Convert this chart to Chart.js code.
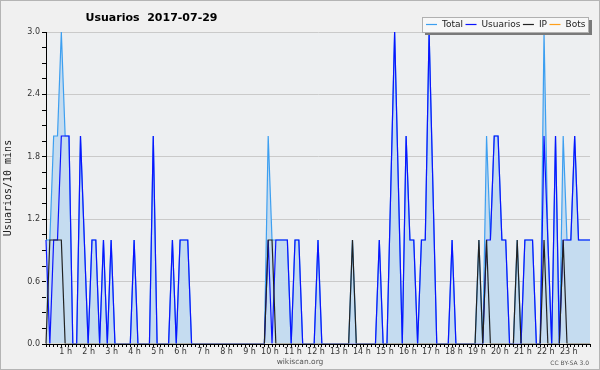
<!DOCTYPE html>
<html>
<head>
<meta charset="utf-8">
<title>Usuarios 2017-07-29</title>
<script src="https://cdn.jsdelivr.net/npm/chart.js@4/dist/chart.umd.min.js"></script>
<style>
  html, body { margin: 0; padding: 0; background: #f0f0f0; }
  canvas { display: block; }
</style>
</head>
<body>
<canvas id="chart" width="600" height="370"></canvas>
<script>
  // 10 minute slots, one line per hour
  var usuarios = [
    1, 0, 1, 1, 2, 2,
    2, 0, 0, 2, 1, 0,
    1, 1, 0, 1, 0, 1,
    0, 0, 0, 0, 0, 1,
    0, 0, 0, 0, 2, 0,
    0, 0, 0, 1, 0, 1,
    1, 1, 0, 0, 0, 0,
    0, 0, 0, 0, 0, 0,
    0, 0, 0, 0, 0, 0,
    0, 0, 0, 0, 1, 0,
    1, 1, 1, 1, 0, 1,
    1, 0, 0, 0, 0, 1,
    0, 0, 0, 0, 0, 0,
    0, 0, 0, 0, 0, 0,
    0, 0, 0, 1, 0, 0,
    1.5, 3, 1.5, 0, 2, 1,
    1, 0, 1, 1, 3, 1.5,
    0, 0, 0, 0, 1, 0,
    0, 0, 0, 0, 0, 0,
    0, 1, 1, 2, 2, 1,
    1, 0, 0, 0, 0, 1,
    1, 1, 0, 0, 2, 1,
    0, 2, 0, 1, 1, 1,
    2, 1, 1, 1, 1
  ];

  var ip = [
    0, 1, 1, 1, 1, 0,
    0, 0, 0, 0, 0, 0,
    0, 0, 0, 0, 0, 0,
    0, 0, 0, 0, 0, 0,
    0, 0, 0, 0, 0, 0,
    0, 0, 0, 0, 0, 0,
    0, 0, 0, 0, 0, 0,
    0, 0, 0, 0, 0, 0,
    0, 0, 0, 0, 0, 0,
    0, 0, 0, 0, 1, 1,
    0, 0, 0, 0, 0, 0,
    0, 0, 0, 0, 0, 0,
    0, 0, 0, 0, 0, 0,
    0, 0, 1, 0, 0, 0,
    0, 0, 0, 0, 0, 0,
    0, 0, 0, 0, 0, 0,
    0, 0, 0, 0, 0, 0,
    0, 0, 0, 0, 0, 0,
    0, 0, 0, 0, 0, 1,
    0, 1, 0, 0, 0, 0,
    0, 0, 0, 1, 0, 0,
    0, 0, 0, 0, 1, 0,
    0, 0, 0, 1, 0, 0,
    0, 0, 0, 0, 0
  ];

  var bots = [
    0, 0, 0, 0, 0, 0,  0, 0, 0, 0, 0, 0,  0, 0, 0, 0, 0, 0,  0, 0, 0, 0, 0, 0,
    0, 0, 0, 0, 0, 0,  0, 0, 0, 0, 0, 0,  0, 0, 0, 0, 0, 0,  0, 0, 0, 0, 0, 0,
    0, 0, 0, 0, 0, 0,  0, 0, 0, 0, 0, 0,  0, 0, 0, 0, 0, 0,  0, 0, 0, 0, 0, 0,
    0, 0, 0, 0, 0, 0,  0, 0, 0, 0, 0, 0,  0, 0, 0, 0, 0, 0,  0, 0, 0, 0, 0, 0,
    0, 0, 0, 0, 0, 0,  0, 0, 0, 0, 0, 0,  0, 0, 0, 0, 0, 0,  0, 0, 0, 0, 0, 0,
    0, 0, 0, 0, 0, 0,  0, 0, 0, 0, 0, 0,  0, 0, 0, 0, 0, 0,  0, 0, 0, 0, 0
  ];

  var total = [
    1, 1, 2, 2, 3, 2,
    2, 0, 0, 2, 1, 0,
    1, 1, 0, 1, 0, 1,
    0, 0, 0, 0, 0, 1,
    0, 0, 0, 0, 2, 0,
    0, 0, 0, 1, 0, 1,
    1, 1, 0, 0, 0, 0,
    0, 0, 0, 0, 0, 0,
    0, 0, 0, 0, 0, 0,
    0, 0, 0, 0, 2, 1,
    1, 1, 1, 1, 0, 1,
    1, 0, 0, 0, 0, 1,
    0, 0, 0, 0, 0, 0,
    0, 0, 1, 0, 0, 0,
    0, 0, 0, 1, 0, 0,
    1.5, 3, 1.5, 0, 2, 1,
    1, 0, 1, 1, 3, 1.5,
    0, 0, 0, 0, 1, 0,
    0, 0, 0, 0, 0, 1,
    0, 2, 1, 2, 2, 1,
    1, 0, 0, 1, 0, 1,
    1, 1, 0, 0, 3, 1,
    0, 2, 0, 2, 1, 1,
    2, 1, 1, 1, 1
  ];

  var hourLabels = ['1 h', '2 h', '3 h', '4 h', '5 h', '6 h', '7 h', '8 h', '9 h', '10 h', '11 h', '12 h',
    '13 h', '14 h', '15 h', '16 h', '17 h', '18 h', '19 h', '20 h', '21 h', '22 h', '23 h'];
  var yMajor = [0, 0.6, 1.2, 1.8, 2.4, 3.0];

  var colors = {
    total: '#3d9ff0',
    fill: '#c5dcf0',
    usuarios: '#0a14ff',
    ip: '#222222',
    bots: '#ff9f1a'
  };

  var slots = [];
  for (var h = 0; h < 24; h++) {
    for (var m = 0; m < 60; m += 10) {
      if (slots.length < total.length) {
        slots.push((h < 10 ? '0' : '') + h + ':' + (m < 10 ? '0' : '') + m);
      }
    }
  }

  var isMajor = function (v) {
    return yMajor.some(function (t) { return Math.abs(t - v) < 1e-6; });
  };

  var tickFont = { family: 'DejaVu Sans', size: 8 };
  // hide the part of the lines that sits on the zero axis
  var lineClip = { left: 1, top: 2, right: 2, bottom: -0.5 };

  var decor = {
    id: 'decor',
    beforeDraw: function (chart) {
      var ctx = chart.ctx, a = chart.chartArea;
      ctx.save();
      ctx.fillStyle = '#f0f0f0';
      ctx.fillRect(0, 0, chart.width, chart.height);
      ctx.strokeStyle = '#b4b4b4';
      ctx.lineWidth = 1;
      ctx.strokeRect(0.5, 0.5, chart.width - 1, chart.height - 1);
      ctx.fillStyle = '#edeff1';
      ctx.fillRect(a.left, a.top, a.right - a.left, a.bottom - a.top);
      ctx.restore();
    },
    afterDraw: function (chart) {
      var ctx = chart.ctx;
      ctx.save();

      // title
      ctx.fillStyle = '#000';
      ctx.font = 'bold 11px "DejaVu Sans"';
      ctx.textAlign = 'center';
      ctx.textBaseline = 'alphabetic';
      ctx.fillText('Usuarios  2017-07-29', 151.5, 21);

      // legend box with shadow
      ctx.fillStyle = '#7a7a7a';
      ctx.fillRect(425, 20, 167, 15);
      ctx.fillStyle = '#f7f7f7';
      ctx.fillRect(422, 17, 167, 16);
      ctx.strokeStyle = '#b0b0b0';
      ctx.strokeRect(422.5, 17.5, 166, 15);

      ctx.font = '9px "DejaVu Sans"';
      ctx.textAlign = 'left';
      ctx.textBaseline = 'middle';
      var x = 426;
      chart.data.datasets.forEach(function (ds) {
        ctx.strokeStyle = ds.borderColor;
        ctx.lineWidth = 1.2;
        ctx.beginPath();
        ctx.moveTo(x, 24.5);
        ctx.lineTo(x + 11, 24.5);
        ctx.stroke();
        x += 16;
        ctx.fillStyle = '#222';
        ctx.fillText(ds.label, x, 25);
        x += ctx.measureText(ds.label).width + 2.5;
      });

      // footer
      ctx.fillStyle = '#555';
      ctx.font = '7.5px "DejaVu Sans"';
      ctx.textAlign = 'center';
      ctx.textBaseline = 'alphabetic';
      ctx.fillText('wikiscan.org', 300, 364);
      ctx.font = '6px "DejaVu Sans"';
      ctx.textAlign = 'right';
      ctx.fillText('CC BY-SA 3.0', 589, 365);
      ctx.restore();
    }
  };

  var chart = new Chart(document.getElementById('chart'), {
    type: 'line',
    data: {
      labels: slots,
      datasets: [
        { label: 'Total', data: total, borderColor: colors.total, backgroundColor: colors.fill, fill: 'origin', order: 4, clip: lineClip },
        { label: 'Usuarios', data: usuarios, borderColor: colors.usuarios, fill: false, order: 3, clip: lineClip },
        { label: 'IP', data: ip, borderColor: colors.ip, fill: false, order: 1, clip: lineClip },
        { label: 'Bots', data: bots, borderColor: colors.bots, fill: false, order: 5, clip: lineClip }
      ]
    },
    options: {
      responsive: false,
      animation: false,
      devicePixelRatio: 1,
      layout: { padding: { top: 32, right: 10, left: 0, bottom: 0 } },
      elements: {
        point: { radius: 0 },
        line: { borderWidth: 1.2, tension: 0 }
      },
      plugins: {
        legend: { display: false },
        tooltip: { enabled: false },
        title: { display: false }
      },
      scales: {
        x: {
          z: 1,
          offset: false,
          border: { color: '#000', width: 1 },
          grid: { drawOnChartArea: false, tickLength: 3, tickColor: '#000' },
          ticks: {
            autoSkip: false,
            maxRotation: 0,
            minRotation: 0,
            padding: 0,
            align: 'end',
            labelOffset: 3,
            font: tickFont,
            color: '#333',
            callback: function (v, i) {
              return (i % 6 === 0 && i > 0) ? hourLabels[i / 6 - 1] : '';
            }
          },
          afterFit: function (s) { s.height = 26; }
        },
        y: {
          min: 0,
          max: 3,
          border: { color: '#000', width: 1 },
          grid: {
            color: function (c) { return isMajor(c.tick.value) ? '#cacaca' : 'rgba(0,0,0,0)'; },
            tickColor: '#000',
            tickLength: 4
          },
          ticks: {
            stepSize: 0.15,
            autoSkip: false,
            padding: 2,
            font: tickFont,
            color: '#333',
            callback: function (v) { return isMajor(v) ? v.toFixed(1) : ''; }
          },
          title: {
            display: true,
            text: 'Usuarios/10 mins',
            font: { family: 'DejaVu Sans Mono', size: 10 },
            color: '#222',
            padding: { top: 2, bottom: 0 }
          },
          afterFit: function (s) { s.width = 46; }
        }
      }
    },
    plugins: [decor]
  });
</script>
</body>
</html>
